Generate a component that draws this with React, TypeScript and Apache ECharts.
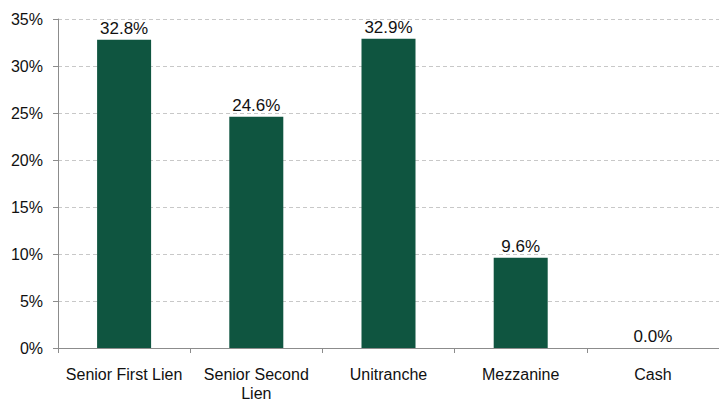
import React, { useEffect, useRef } from "react";
import * as echarts from "echarts";

const categories = ["Senior First Lien", "Senior Second\nLien", "Unitranche", "Mezzanine", "Cash"];
const values = [32.8, 24.6, 32.9, 9.6, 0.0];
const yTicks = { min: 0, max: 35, interval: 5 };

export default function App() {
  const ref = useRef<HTMLDivElement>(null);
  useEffect(() => {
    if (!ref.current) return;
    const chart = echarts.init(ref.current, undefined, { renderer: "svg" });
    const font = "'Liberation Sans', Arial, sans-serif";
    chart.setOption({
      animation: false,
      backgroundColor: "#ffffff",
      grid: { left: 58, right: -2, top: 19, bottom: 51, containLabel: false },
      xAxis: {
        type: "category",
        data: categories,
        axisLine: { show: true, lineStyle: { color: "#8c8c8c", width: 1 } },
        axisTick: { show: true, alignWithLabel: false, length: 5, lineStyle: { color: "#8c8c8c" } },
        axisLabel: {
          color: "#111",
          fontSize: 16,
          fontFamily: font,
          margin: 17,
          lineHeight: 19,
          interval: 0,
        },
      },
      yAxis: {
        type: "value",
        min: yTicks.min,
        max: yTicks.max,
        interval: yTicks.interval,
        axisLine: { show: true, lineStyle: { color: "#8c8c8c", width: 1 } },
        axisTick: { show: true, length: 5, lineStyle: { color: "#8c8c8c" } },
        axisLabel: {
          color: "#111",
          fontSize: 16,
          fontFamily: font,
          margin: 15,
          formatter: (v: number) => `${v}%`,
        },
        splitLine: { show: true, lineStyle: { color: "#c8c8c8", type: [4, 3], width: 1 } },
      },
      series: [
        {
          type: "bar",
          data: values,
          barWidth: 54,
          itemStyle: { color: "#0f5540" },
          label: {
            show: true,
            position: "top",
            distance: 3,
            color: "#111",
            fontSize: 17,
            fontFamily: font,
            formatter: (p: any) => `${Number(p.value).toFixed(1)}%`,
          },
        },
      ],
    });
    return () => chart.dispose();
  }, []);
  return <div ref={ref} style={{ width: 719, height: 403, position: "fixed", left: 0, top: 0 }} />;
}
